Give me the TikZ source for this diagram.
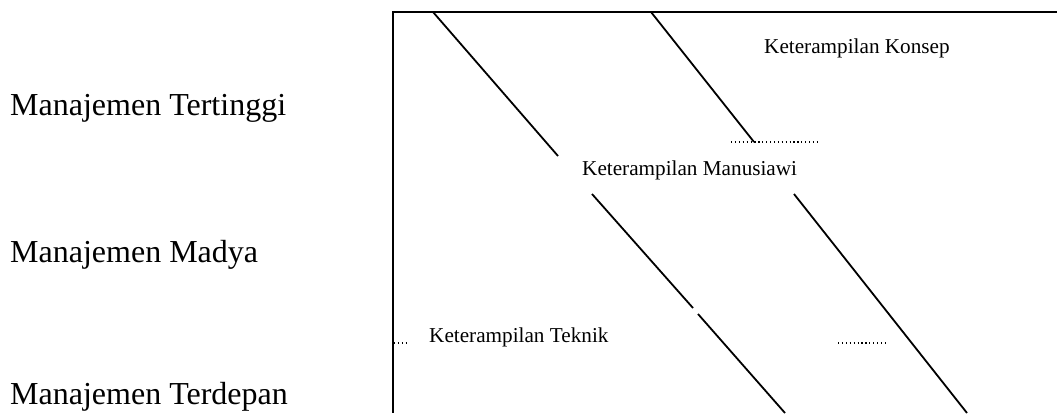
\documentclass[tikz,border=0pt]{standalone}
\usepackage{fontspec}
\setmainfont{Liberation Serif}
\begin{document}
\begin{tikzpicture}[x=1pt,y=-1pt,
  level/.style={anchor=base west,inner sep=0pt,font=\fontsize{32}{38}\selectfont},
  skill/.style={anchor=base west,inner sep=0pt,font=\fontsize{21.2}{26}\selectfont},
  stroke/.style={line width=1.8pt,line cap=butt},
  dots/.style={line width=1.2pt,dash pattern=on 1.2pt off 2.7pt}]
\useasboundingbox (0,0) rectangle (1057,413);

% management levels
\node[level] (top) at (10,115) {Manajemen Tertinggi};
\node[level] (mid) at (10,262) {Manajemen Madya};
\node[level] (low) at (10,404) {Manajemen Terdepan};

% frame open to the right and bottom
\draw[stroke] (1057,12) -- (393,12) -- (393,413);

% skill labels
\node[skill] (konsep) at (764,53) {Keterampilan Konsep};
\node[skill] (manusia) at (582,175) {Keterampilan Manusiawi};
\node[skill] (teknik) at (429,342) {Keterampilan Teknik};

% first divider
\draw[stroke] (433,12) -- (558,156);
\draw[stroke] (592,194) -- (693,308);
\draw[stroke] (698,314) -- (785,413);

% second divider
\draw[stroke] (651,12) -- (754,142);
\draw[stroke] (794,194) -- (967,413);

% dotted fillers
\draw[dots] (731,142) -- (817,142);
\draw[dots] (838,343) -- (886,343);
\draw[dots] (394,343) -- (409,343);
\end{tikzpicture}
\end{document}
